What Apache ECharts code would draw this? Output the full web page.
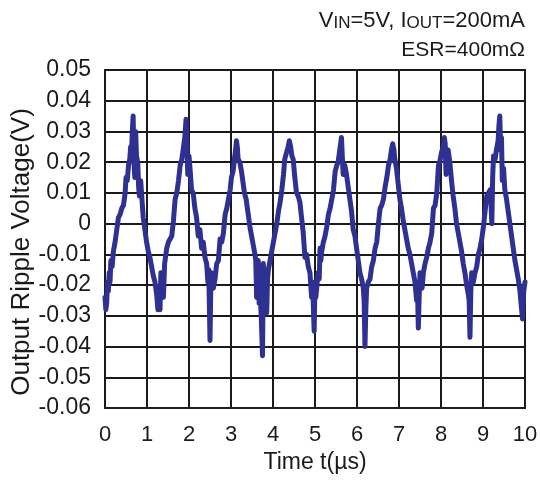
<!DOCTYPE html>
<html>
<head>
<meta charset="utf-8">
<script src="https://cdn.jsdelivr.net/npm/echarts@6/dist/echarts.min.js"></script>
<style>
html,body{margin:0;padding:0;background:#fff;}
#chart{width:540px;height:485px;}
</style>
</head>
<body>
<div id="chart"></div>
<script>
var xTicks = [0,1,2,3,4,5,6,7,8,9,10];
var yTickLabels = ['0.05','0.04','0.03','0.02','0.01','0','-0.01','-0.02','-0.03','-0.04','-0.05','-0.06'];

var timeUs = [
0.00,0.02,0.04,0.06,0.08,0.10,0.12,0.14,0.17,0.20,0.24,0.28,0.32,0.36,0.40,0.44,0.48,0.50,0.53,0.56,0.59,0.61,0.63,0.65,0.67,0.69,0.71,0.73,0.75,0.78,0.80,0.82,0.85,0.88,0.91,0.95,0.99,1.03,1.07,1.11,1.15,1.19,1.23,1.26,1.29,1.31,1.33,1.36,1.39,1.42,1.47,1.51,1.55,1.59,1.63,1.67,1.71,1.75,1.79,1.83,1.87,1.90,1.93,1.95,1.97,2.00,2.03,2.06,2.10,2.14,
2.18,2.22,2.26,2.30,2.34,2.38,2.42,2.45,2.47,2.50,2.52,2.54,2.58,2.62,2.66,2.70,2.74,2.78,2.82,2.86,2.90,2.94,2.98,3.01,3.05,3.09,3.11,3.13,3.15,3.17,3.21,3.25,3.28,3.32,3.36,3.40,3.45,3.49,3.53,3.57,3.59,3.61,3.63,3.65,3.67,3.69,3.72,3.75,3.77,3.80,3.83,3.85,3.87,3.89,3.93,3.97,
4.01,4.05,4.09,4.13,4.17,4.21,4.25,4.28,4.32,4.36,4.39,4.42,4.45,4.48,4.52,4.56,4.60,4.64,4.68,4.72,4.76,4.80,4.84,4.88,4.92,4.95,4.98,5.00,5.02,5.04,5.07,5.10,5.12,5.14,5.16,5.20,5.24,5.28,5.32,5.36,5.40,5.44,5.48,5.52,5.55,5.59,5.63,5.65,5.67,5.71,5.75,5.79,5.83,5.87,5.91,5.95,5.99,
6.03,6.07,6.11,6.15,6.17,6.19,6.21,6.23,6.27,6.31,6.35,6.39,6.43,6.47,6.51,6.55,6.59,6.63,6.67,6.71,6.75,6.79,6.82,6.85,6.88,6.90,6.94,6.98,7.02,7.06,7.10,7.14,7.18,7.22,7.26,7.30,7.34,7.38,7.42,7.44,7.46,7.48,7.50,7.53,7.55,7.58,7.62,7.66,7.70,7.74,7.78,7.82,7.86,7.90,7.94,7.97,
8.01,8.05,8.08,8.10,8.12,8.14,8.17,8.21,8.25,8.29,8.33,8.37,8.41,8.45,8.49,8.53,8.57,8.61,8.65,8.67,8.69,8.71,8.73,8.77,8.81,8.85,8.89,8.93,8.97,9.01,9.05,9.09,9.13,9.17,9.19,9.21,9.23,9.25,9.29,9.32,9.36,9.38,9.40,9.42,9.44,9.46,9.49,9.52,9.56,9.60,9.64,9.68,9.72,9.76,9.80,9.84,9.88,9.90,9.92,9.94,9.97,10.00
];

var rippleV = [
-0.024,-0.028,-0.026,-0.019,-0.022,-0.016,-0.019,-0.012,-0.014,-0.009,-0.006,-0.002,0.002,0.003,0.005,0.006,0.010,0.015,0.014,0.019,0.021,0.025,0.022,0.030,0.035,0.020,0.015,0.030,0.022,0.020,0.012,0.009,0.014,0.008,0.002,-0.002,-0.006,-0.009,-0.011,-0.014,-0.017,-0.019,-0.023,-0.028,-0.025,-0.028,-0.016,-0.019,-0.024,-0.013,-0.008,-0.006,-0.005,-0.004,0.001,0.008,0.010,0.014,0.019,0.021,0.025,0.028,0.034,0.026,0.016,0.022,0.017,0.011,0.010,0.005,
0.002,-0.004,-0.002,-0.008,-0.006,-0.011,-0.013,-0.019,-0.015,-0.038,-0.020,-0.016,-0.021,-0.018,-0.013,-0.012,-0.005,-0.006,-0.003,0.003,0.005,0.008,0.011,0.015,0.017,0.022,0.024,0.027,0.025,0.021,0.020,0.017,0.014,0.010,0.008,0.004,-0.001,-0.004,-0.007,-0.010,-0.012,-0.024,-0.015,-0.012,-0.026,-0.022,-0.030,-0.043,-0.013,-0.020,-0.025,-0.029,-0.018,-0.015,-0.012,-0.009,
-0.006,-0.003,0.000,0.004,0.007,0.011,0.016,0.021,0.023,0.025,0.027,0.025,0.022,0.021,0.015,0.010,0.009,0.007,0.002,-0.003,-0.011,-0.010,-0.014,-0.016,-0.024,-0.022,-0.035,-0.019,-0.024,-0.021,-0.016,-0.018,-0.008,-0.012,-0.009,-0.006,-0.004,-0.001,0.003,0.005,0.005,0.011,0.017,0.019,0.020,0.024,0.028,0.022,0.016,0.019,0.016,0.012,0.008,0.004,-0.002,-0.004,-0.008,
-0.012,-0.016,-0.018,-0.021,-0.025,-0.040,-0.028,-0.021,-0.019,-0.018,-0.014,-0.012,-0.008,-0.006,0.000,0.005,0.006,0.008,0.012,0.015,0.019,0.021,0.024,0.026,0.024,0.021,0.018,0.013,0.008,0.005,0.001,-0.002,-0.005,-0.008,-0.010,-0.013,-0.016,-0.019,-0.025,-0.021,-0.034,-0.024,-0.016,-0.019,-0.021,-0.016,-0.013,-0.011,-0.008,-0.006,-0.003,0.005,0.006,0.010,0.019,0.020,
0.023,0.025,0.028,0.026,0.016,0.022,0.024,0.020,0.014,0.009,0.005,0.000,-0.003,-0.006,-0.009,-0.013,-0.016,-0.020,-0.023,-0.025,-0.037,-0.022,-0.016,-0.019,-0.016,-0.014,-0.010,-0.008,-0.005,-0.001,0.004,0.009,0.010,0.011,0.007,0.000,0.015,0.022,0.021,0.024,0.027,0.032,0.035,0.024,0.028,0.014,0.018,0.011,0.008,0.004,0.000,-0.004,-0.008,-0.012,-0.015,-0.018,-0.022,-0.025,-0.028,-0.031,-0.022,-0.019
];

var points = timeUs.map(function(t, i){ return [t, rippleV[i]]; });

var chart = echarts.init(document.getElementById('chart'), null, {renderer:'canvas'});
var fontFam = '"Liberation Sans", Arial, sans-serif';
var ink = '#1a1a1a';
var gridColor = '#1a1a1a';
chart.setOption({
  animation: false,
  backgroundColor: '#fff',
  grid: {left: 105, right: 15, top: 70, bottom: 77, containLabel: false, outerBoundsMode: 'none',
         show: true, borderColor: gridColor, borderWidth: 2},
  graphic: [
    {type:'text', right: 15, top: 10, style:{
      rich:{
        n:{fontSize:22, lineHeight:22, fontFamily:fontFam, fill:ink, verticalAlign:'bottom'},
        s:{fontSize:17, lineHeight:17, fontFamily:fontFam, fill:ink, verticalAlign:'bottom'}
      },
      text:'{n|V}{s|IN}{n|=5V, I}{s|OUT}{n|=200mA}'}},
    {type:'text', right: 15, top: 40, style:{text:'ESR=400mΩ', fill:ink, font:'21px '+fontFam}},
    {type:'text', x: 22, y: 252, rotation: Math.PI / 2,
      style:{text:'Output Ripple Voltage(V)', fill:ink, font:'26px '+fontFam, align:'center', verticalAlign:'middle'}}
  ],
  xAxis: {
    type: 'value', min: 0, max: 10, interval: 1,
    name: 'Time t(µs)', nameLocation: 'middle', nameGap: 43,
    nameTextStyle: {fontSize: 23, fontFamily: fontFam, color: ink},
    axisLine: {show: true, lineStyle: {color: gridColor, width: 2}},
    axisTick: {show: false},
    axisLabel: {fontSize: 22, fontFamily: fontFam, color: ink, margin: 16,
      formatter: function(v){ return xTicks.indexOf(v) >= 0 ? String(v) : ''; }},
    splitLine: {show: true, lineStyle: {color: gridColor, width: 2}}
  },
  yAxis: {
    type: 'value', min: -0.06, max: 0.05, interval: 0.01,
    axisLine: {show: true, lineStyle: {color: gridColor, width: 2}},
    axisTick: {show: false},
    axisLabel: {fontSize: 23, fontFamily: fontFam, color: ink, margin: 14,
      formatter: function(v){ var k = Math.round((0.05 - v) * 100); return yTickLabels[k] !== undefined ? yTickLabels[k] : ''; }},
    splitLine: {show: true, lineStyle: {color: gridColor, width: 2}}
  },
  series: [{
    type: 'line', data: points, showSymbol: false, symbol: 'none',
    lineStyle: {color: '#2e3192', width: 5, join: 'round', cap: 'round'},
    clip: true
  }]
});
</script>
</body>
</html>
